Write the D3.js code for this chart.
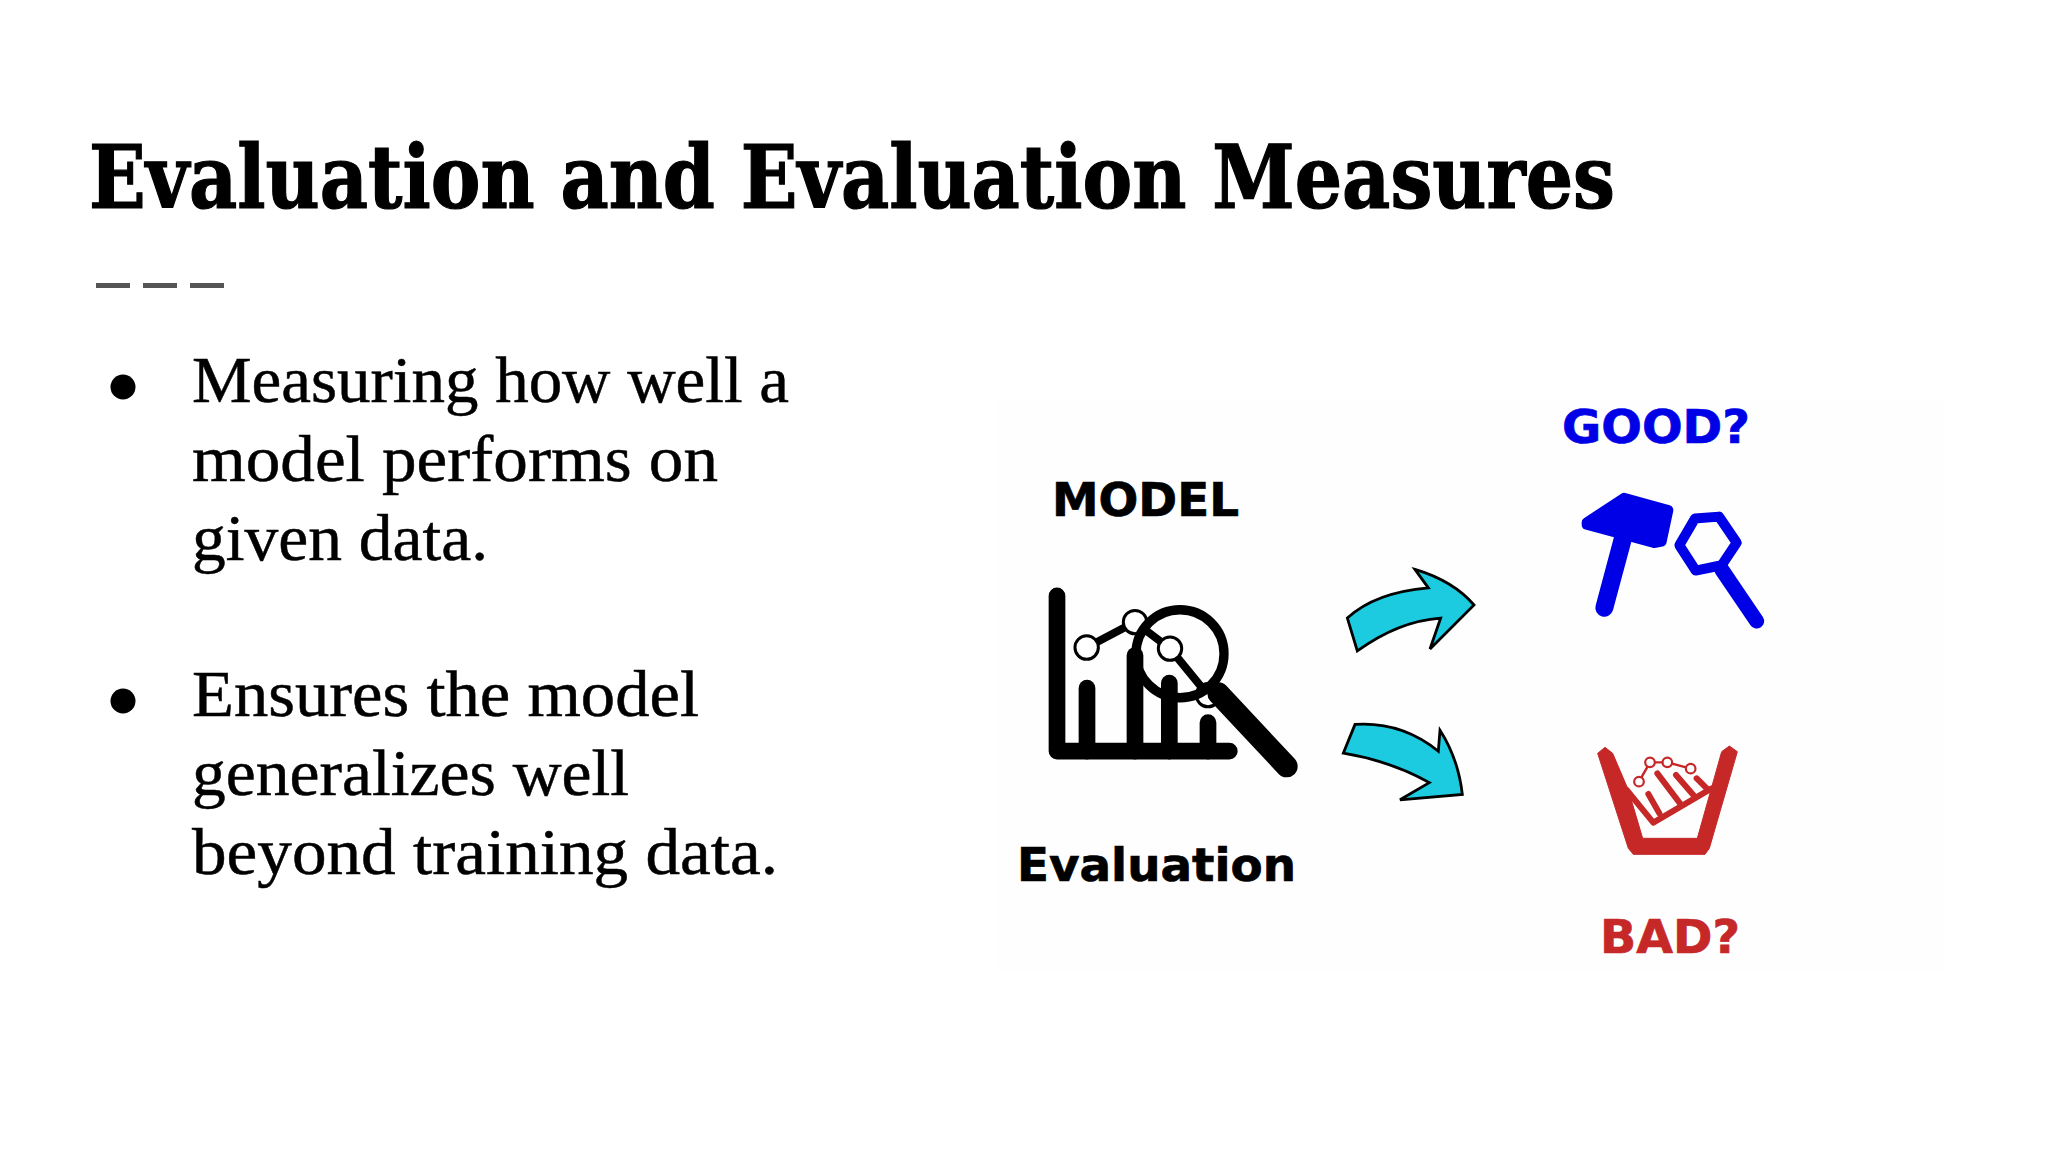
<!DOCTYPE html>
<html><head><meta charset="utf-8">
<script src="https://cdn.jsdelivr.net/npm/d3@7"></script>
<style>html,body{margin:0;padding:0;background:#fff}svg{display:block}</style>
</head><body><svg id="c" width="2048" height="1152"></svg>
<script>
// ---- text content ----
const titleText = "Evaluation and Evaluation Measures";
const bulletOne = ["Measuring how well a", "model performs on", "given data."];
const bulletTwo = ["Ensures the model", "generalizes well", "beyond training data."];
const bulletOneWidths = [597, 526, 296];
const bulletTwoWidths = [507, 437, 586];
const modelLabel = "MODEL", evalLabel = "Evaluation", goodLabel = "GOOD?", badLabel = "BAD?";

// ---- small evaluation chart icon: bar tops and line points ----
const barCats = [321, 465, 568, 684];
const barTops = [895, 800, 880, 995];
const lineX = [320, 465, 570, 684];
const lineY = [777, 703, 780, 915];

const BLUE = "#0000e6", RED = "#c62828", CYAN = "#1ccbe0";
const svg = d3.select("#c");
svg.append("rect").attr("width", 2048).attr("height", 1152).attr("fill", "#fff");
svg.append("rect").attr("x", 996).attr("y", 400).attr("width", 948).attr("height", 572).attr("fill", "#fefefe");

// scales from measured icon units to the page
const lx = d3.scaleLinear().domain([0, 300]).range([980, 1080]);
const ly = d3.scaleLinear().domain([0, 290.4]).range([380, 480]);
const rx = d3.scaleLinear().domain([0, 300]).range([1330, 1430]);
const ry = d3.scaleLinear().domain([0, 261.3]).range([380, 480]);
const bx = d3.scaleLinear().domain([0, 300]).range([1570, 1670]);
const by = d3.scaleLinear().domain([0, 300]).range([720, 820]);
const L = p => [lx(p[0]), ly(p[1])];
const R = p => [rx(p[0]), ry(p[1])];
const B = p => [bx(p[0]), by(p[1])];

// title
svg.append("text").attr("x", 89).attr("y", 208).text(titleText)
  .attr("font-family", "'DejaVu Serif Condensed','DejaVu Serif',serif").attr("font-weight", 700)
  .attr("font-size", 88).attr("fill", "#000").attr("stroke", "#000").attr("stroke-width", 1.2)
  .attr("textLength", 1526).attr("lengthAdjust", "spacingAndGlyphs");

// dashes under the title
const dashes = d3.range(3);
svg.selectAll("rect.dash").data(dashes).join("rect").attr("class", "dash")
  .attr("x", d => 96 + d * 47).attr("y", 283).attr("width", 34).attr("height", 5).attr("fill", "#555");

// bullets
function bullet(lines, widths, y0) {
  svg.append("circle").attr("cx", 123).attr("cy", y0 - 15).attr("r", 12.5).attr("fill", "#000");
  lines.forEach((t, i) => {
    svg.append("text").attr("x", 192).attr("y", y0 + i * 79).text(t)
      .attr("font-family", "'Liberation Serif',serif").attr("font-size", 65)
      .attr("fill", "#000").attr("stroke", "#000").attr("stroke-width", 0.5)
      .attr("textLength", widths[i]).attr("lengthAdjust", "spacingAndGlyphs");
  });
}
bullet(bulletOne, bulletOneWidths, 402);
bullet(bulletTwo, bulletTwoWidths, 716);

// icon labels
function label(t, x, y, size, w, col) {
  svg.append("text").attr("x", x).attr("y", y).text(t)
    .attr("font-family", "'DejaVu Sans',sans-serif").attr("font-weight", 700)
    .attr("font-size", size).attr("fill", col).attr("stroke", col).attr("stroke-width", 0.7)
    .attr("textLength", w).attr("lengthAdjust", "spacingAndGlyphs");
}
label(modelLabel, 1052, 516, 47, 187, "#000");
label(evalLabel, 1017, 881, 47, 279, "#000");
label(goodLabel, 1562, 443, 47, 188, BLUE);
label(badLabel, 1600, 953, 47, 140, RED);

const lineGen = d3.line();
const stroke = (pts, w, col) => svg.append("path").attr("d", lineGen(pts)).attr("fill", "none")
  .attr("stroke", col).attr("stroke-width", w).attr("stroke-linecap", "round").attr("stroke-linejoin", "round");

// left icon
barCats.forEach((x, i) => stroke([L([x, barTops[i]]), L([x, 1078])], 16.7, "#000"));
stroke([[231, 627], [231, 1078], [748, 1078]].map(L), 16.7, "#000");
const pts = lineX.map((x, i) => L([x, lineY[i]]));
stroke(pts, 8, "#000");
svg.selectAll("circle.p").data(pts).join("circle").attr("class", "p")
  .attr("cx", d => d[0]).attr("cy", d => d[1]).attr("r", 11.7)
  .attr("fill", "#fff").attr("stroke", "#000").attr("stroke-width", 3);
const lensC = L([600, 795]);
svg.append("circle").attr("cx", lensC[0]).attr("cy", lensC[1]).attr("r", 44).attr("fill", "none")
  .attr("stroke", "#000").attr("stroke-width", 9.3);
stroke([[715, 910], [920, 1122]].map(L), 22, "#000");

// arrows
function arrow(segs) {
  const p = d3.path();
  segs.forEach((s, i) => {
    if (s.length === 2) { const a = R(s); i ? p.lineTo(a[0], a[1]) : p.moveTo(a[0], a[1]); }
    else { const c = R(s.slice(0, 2)), e = R(s.slice(2)); p.quadraticCurveTo(c[0], c[1], e[0], e[1]); }
  });
  p.closePath();
  svg.append("path").attr("d", p.toString()).attr("fill", CYAN)
    .attr("stroke", "#000").attr("stroke-width", 2.8).attr("stroke-linejoin", "miter");
}
arrow([[52, 622], [135, 555, 295, 543], [255, 495], [370, 525, 432, 588], [300, 703], [332, 622], [205, 630, 82, 708]]);
arrow([[75, 900], [215, 892, 325, 970], [330, 915], [385, 990, 397, 1083], [210, 1097], [298, 1052], [180, 995, 40, 975]]);

// hammer and lens
const head = [[770, 372], [882, 308], [1015, 340], [995, 422], [972, 426], [770, 378]];
svg.append("path").attr("d", lineGen(head.map(R)) + "Z").attr("fill", BLUE).attr("stroke", BLUE)
  .attr("stroke-width", 10).attr("stroke-linejoin", "round");
stroke([[880, 410], [823, 595]].map(R), 18, BLUE);
const hexLens = [[1095, 362], [1167, 357], [1220, 425], [1175, 484], [1097, 498], [1048, 432]];
svg.append("path").attr("d", lineGen(hexLens.map(R)) + "Z").attr("fill", "none").attr("stroke", BLUE)
  .attr("stroke-width", 10).attr("stroke-linejoin", "round");
stroke([[1175, 495], [1280, 630]].map(R), 15, BLUE);

// basket: thick tapered wall outline
const basketWall = [[83, 100], [105, 82], [128, 100], [175, 210], [218, 355], [382, 355], [455, 95], [478, 78], [502, 95], [418, 385], [405, 403], [190, 403], [175, 385]];
svg.append("path").attr("d", lineGen(basketWall.map(B)) + "Z").attr("fill", RED).attr("stroke", RED)
  .attr("stroke-width", 1).attr("stroke-linejoin", "round");
stroke([[170, 210], [250, 308], [425, 205]].map(B), 6, RED);
const redBars = [[[235, 222], [268, 280]], [[262, 160], [330, 250]], [[318, 165], [370, 225]], [[380, 175], [410, 205]]];
redBars.forEach(b => stroke(b.map(B), 6, RED));
const redPts = [[207, 185], [240, 127], [292, 127], [362, 146]].map(B);
stroke(redPts, 2.4, RED);
svg.selectAll("circle.r").data(redPts).join("circle").attr("class", "r")
  .attr("cx", d => d[0]).attr("cy", d => d[1]).attr("r", 4.8)
  .attr("fill", "#fff").attr("stroke", RED).attr("stroke-width", 2.2);
</script></body></html>
